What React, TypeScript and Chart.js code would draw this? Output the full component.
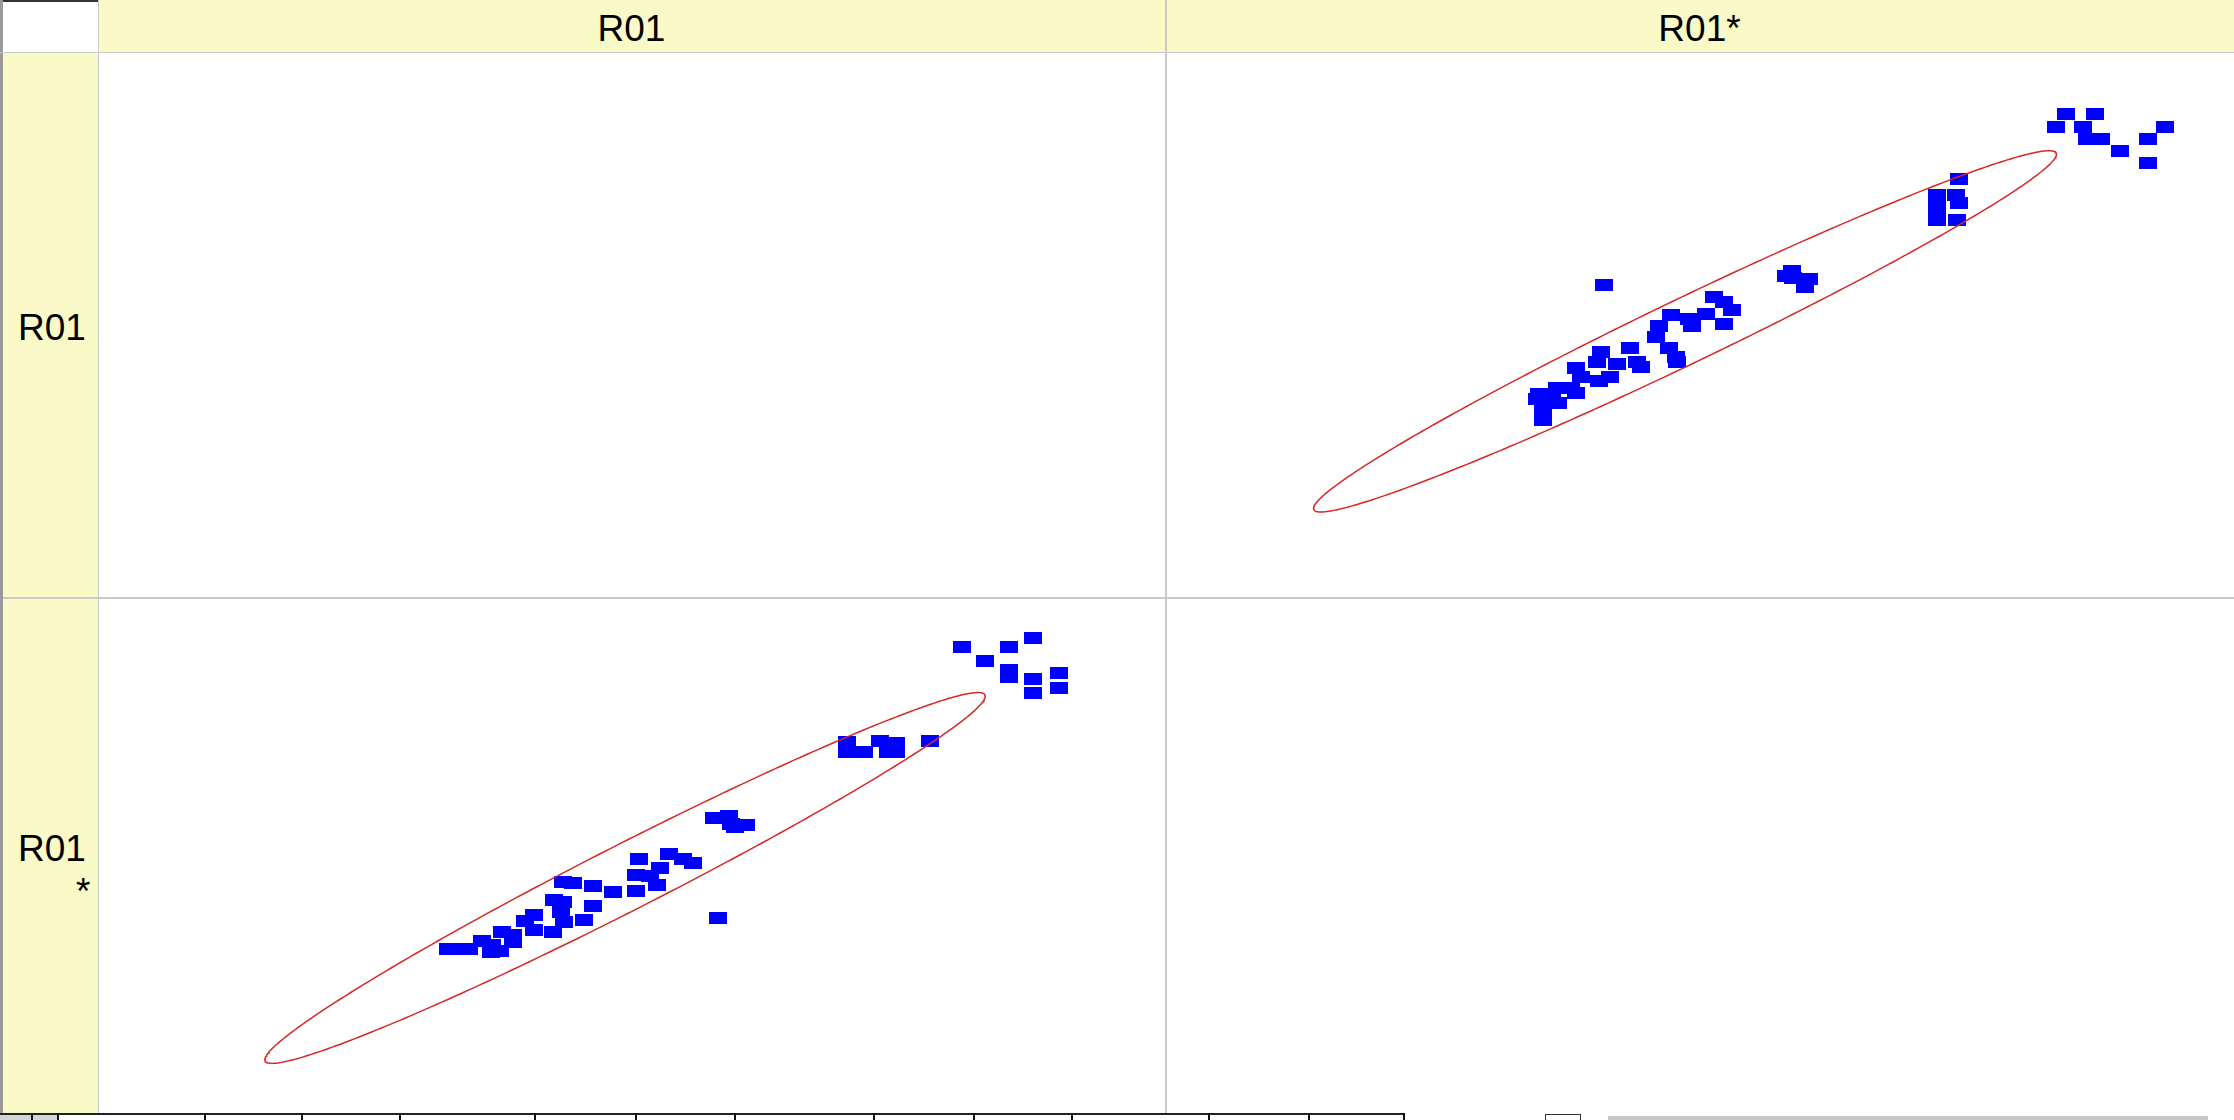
import React, { useEffect, useRef } from "react";
import { Chart, registerables } from "chart.js";

Chart.register(...registerables);

// ---- data ----
const variables = ["R01", "R01*"];

const r01 = [
  81.3, 83.51, 85.76, 88.1, 85.76, 85.76, 88.1, 88.1, 90.5, 90.5,
  70.41, 70.41, 72.04, 73.58, 75.09, 74.27, 75.09, 78.26,
  57.82, 59.23, 59.44, 60.86, 59.85,
  58.2,
  50.73, 53.51, 54.92, 55.79, 52.74, 50.42, 51.73, 52.42, 50.42, 48.24,
  46.33, 43.55, 44.49, 46.33, 45.48, 42.67, 43.55, 43.3, 43.61, 42.52,
  40.8, 40.8, 39.93, 37.77, 38.77, 38.77, 35.8, 36.74, 36.67, 37.52,
  32.61, 33.62, 34.56,
];

const r01Star = [
  91.24, 88.43, 91.18, 92.94, 86.47, 85.1, 84.71, 81.96, 85.88, 82.94,
  72.1, 70.0, 70.0, 72.29, 71.96, 70.0, 70.0, 72.29,
  56.8, 57.25, 55.63, 55.49, 54.96,
  36.67,
  48.69, 49.55, 48.69, 47.71, 46.86, 45.49, 45.16, 43.39, 42.22, 41.9,
  43.2, 43.98, 43.86, 39.27, 36.33, 40.39, 39.94, 37.98, 36.02, 33.92,
  37.31, 34.37, 36.14, 33.86, 33.39, 31.96, 32.1, 31.43, 29.94, 30.14,
  30.53, 30.53, 30.53,
];

// confidence ellipse (R01, R01*) : centre and two conjugate half-axes
const ellipseCenter = [49.39, 44.8];
const ellipseMajor = [34.11, 36.76];
const ellipseMinor = [1.44, -5.85];

// axis ranges of the two scatter panels
const panelAX = [0, 100]; // R01
const panelAY = [-1.18, 99.8]; // R01*
const panelBX = [-6.61, 99.21]; // R01*
const panelBY = [0.31, 100.87]; // R01

// ---- layout ----
const W = 2234;
const H = 1120;
const HEADER_H = 52;
const LEFT_W = 98;
const MID_X = 1165;
const MID_Y = 597;
const BOTTOM = 1113;
const YELLOW = "#fafac8";
const GRID = "#c9c9c9";
const FONT = "'Liberation Sans', Arial, sans-serif";

function ellipsePoints(swap: boolean) {
  const pts: { x: number; y: number }[] = [];
  const n = 360;
  for (let i = 0; i <= n; i++) {
    const t = (i / n) * Math.PI * 2;
    const a = ellipseCenter[0] + ellipseMajor[0] * Math.cos(t) + ellipseMinor[0] * Math.sin(t);
    const b = ellipseCenter[1] + ellipseMajor[1] * Math.cos(t) + ellipseMinor[1] * Math.sin(t);
    pts.push(swap ? { x: b, y: a } : { x: a, y: b });
  }
  return pts;
}

function markerImage() {
  const c = document.createElement("canvas");
  c.width = 18;
  c.height = 12;
  const ctx = c.getContext("2d")!;
  ctx.fillStyle = "#0000ff";
  ctx.fillRect(0, 0, 18, 12);
  return c;
}

function ScatterPanel(props: {
  left: number;
  top: number;
  width: number;
  height: number;
  swap: boolean;
  xr: number[];
  yr: number[];
}) {
  const ref = useRef<HTMLCanvasElement>(null);
  const { left, top, width, height, swap, xr, yr } = props;
  useEffect(() => {
    if (!ref.current) return;
    const pts = r01.map((v, i) => (swap ? { x: r01Star[i], y: v } : { x: v, y: r01Star[i] }));
    const chart = new Chart(ref.current, {
      type: "scatter",
      data: {
        datasets: [
          {
            data: ellipsePoints(swap),
            showLine: true,
            borderColor: "rgb(214,40,40)",
            borderWidth: 1.5,
            pointRadius: 0,
            fill: false,
            tension: 0,
          } as any,
          {
            data: pts,
            pointStyle: markerImage() as any,
            pointRadius: 6,
            backgroundColor: "#0000ff",
            borderWidth: 0,
          } as any,
        ],
      },
      options: {
        responsive: false,
        animation: false,
        devicePixelRatio: 1,
        events: [],
        layout: { padding: 0 },
        plugins: { legend: { display: false }, tooltip: { enabled: false }, title: { display: false } },
        scales: {
          x: { type: "linear", display: false, min: xr[0], max: xr[1] },
          y: { type: "linear", display: false, min: yr[0], max: yr[1] },
        },
      },
    });
    return () => chart.destroy();
  }, []);
  return (
    <canvas
      ref={ref}
      width={width}
      height={height}
      style={{ position: "absolute", left, top, width, height, display: "block" }}
    />
  );
}

const tabSeparators = [31, 57, 204, 301, 399, 534, 635, 734, 873, 973, 1071, 1208, 1308, 1403];

export default function App() {
  const labelStyle: React.CSSProperties = {
    position: "absolute",
    fontFamily: FONT,
    fontSize: 37,
    color: "#000",
    lineHeight: "40px",
    whiteSpace: "nowrap",
  };
  return (
    <div
      style={{
        position: "fixed",
        left: 0,
        top: 0,
        width: W,
        height: H,
        background: "#fff",
        overflow: "hidden",
      }}
    >
      {/* header strip */}
      <div style={{ position: "absolute", left: LEFT_W, top: 0, width: W - LEFT_W, height: HEADER_H, background: YELLOW }} />
      {/* left label column */}
      <div style={{ position: "absolute", left: 0, top: HEADER_H, width: LEFT_W, height: BOTTOM - HEADER_H, background: YELLOW }} />
      {/* top-left cell borders */}
      <div style={{ position: "absolute", left: 0, top: 0, width: LEFT_W, height: 2, background: "#333" }} />
      <div style={{ position: "absolute", left: 0, top: 0, width: 3, height: BOTTOM, background: "#9a9a9a" }} />

      {/* grid lines */}
      <div style={{ position: "absolute", left: 0, top: HEADER_H, width: W, height: 1, background: GRID }} />
      <div style={{ position: "absolute", left: 3, top: MID_Y, width: W, height: 2, background: GRID }} />
      <div style={{ position: "absolute", left: LEFT_W, top: 0, width: 1, height: BOTTOM, background: GRID }} />
      <div style={{ position: "absolute", left: MID_X, top: 0, width: 2, height: BOTTOM, background: GRID }} />

      {/* column headers */}
      <div style={{ ...labelStyle, left: LEFT_W, width: MID_X - LEFT_W, top: 9, textAlign: "center" }}>{variables[0]}</div>
      <div style={{ ...labelStyle, left: MID_X, width: W - MID_X, top: 9, textAlign: "center" }}>{variables[1]}</div>

      {/* row headers */}
      <div style={{ ...labelStyle, left: 0, width: LEFT_W + 6, top: 308, textAlign: "center" }}>{variables[0]}</div>
      <div style={{ ...labelStyle, left: 0, width: LEFT_W + 6, top: 829, textAlign: "center" }}>{variables[1].slice(0, 3)}</div>
      <div style={{ ...labelStyle, left: 76, top: 872 }}>{variables[1].slice(3)}</div>

      {/* scatter panels */}
      <ScatterPanel left={LEFT_W} top={MID_Y + 1} width={MID_X - LEFT_W} height={BOTTOM - MID_Y - 1} swap={false} xr={panelAX} yr={panelAY} />
      <ScatterPanel left={MID_X + 1} top={HEADER_H + 1} width={W - MID_X - 1} height={MID_Y - HEADER_H - 1} swap={true} xr={panelBX} yr={panelBY} />

      {/* bottom tab strip */}
      <div style={{ position: "absolute", left: 0, top: BOTTOM, width: 1403, height: 2, background: "#222" }} />
      <div style={{ position: "absolute", left: 0, top: BOTTOM + 2, width: 57, height: H - BOTTOM - 2, background: "#d4d4d4" }} />
      {tabSeparators.map((x, i) => (
        <div key={i} style={{ position: "absolute", left: x, top: BOTTOM, width: 2, height: H - BOTTOM, background: "#111" }} />
      ))}
      <div style={{ position: "absolute", left: 1545, top: BOTTOM + 1, width: 36, height: H - BOTTOM, border: "1px solid #333", borderBottom: "none", boxSizing: "border-box" }} />
      <div style={{ position: "absolute", left: 1608, top: BOTTOM + 3, width: 600, height: H - BOTTOM - 3, background: "#c8c8c8" }} />
    </div>
  );
}
